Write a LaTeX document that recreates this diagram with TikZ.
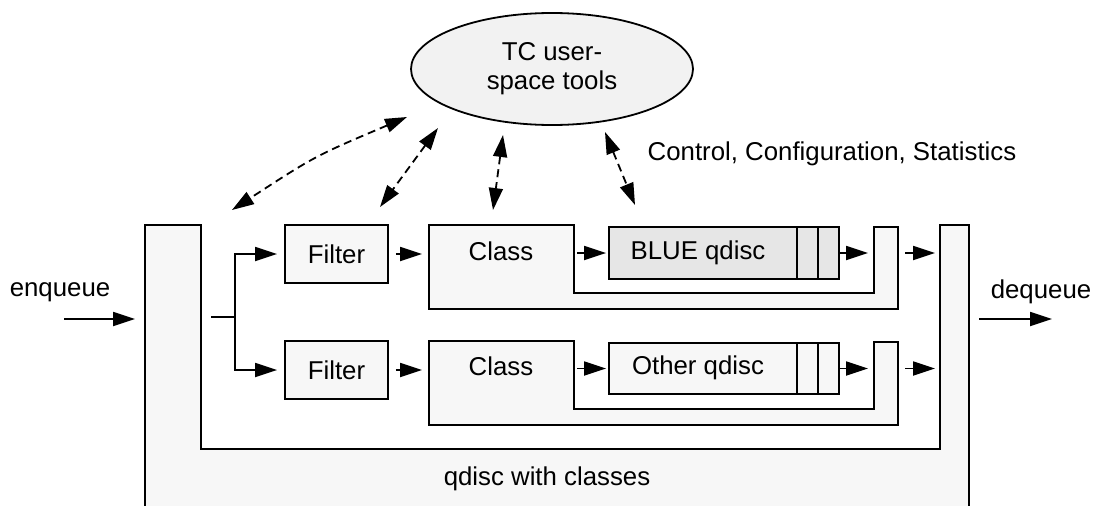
\documentclass[tikz,border=0pt]{standalone}
\usepackage{fontspec}
\setmainfont{Liberation Sans}
\usetikzlibrary{arrows.meta,shapes.geometric}

\definecolor{paper}{HTML}{F7F7F7}
\definecolor{toolfill}{HTML}{F2F2F2}
\definecolor{bluefill}{HTML}{E6E6E6}

\begin{document}
\begin{tikzpicture}[
  x=1pt, y=-1pt,
  line width=1.8pt,
  every node/.style={font=\fontsize{25.8}{29}\selectfont, inner sep=0pt},
  >={Triangle[length=22pt 0 0, width=14pt 0 0]},
  arr/.style={->},
  darr/.style={<->, dash pattern=on 8pt off 5pt},
  box/.style={draw, fill=paper, rectangle},
  qbox/.style={draw, rectangle, minimum width=230pt},
]
\useasboundingbox (0,0) rectangle (1095,506);

% outer qdisc with classes (open at the bottom)
\fill[paper] (145,225) -- (201,225) -- (201,449) -- (940,449) -- (940,225)
  -- (969,225) -- (969,506) -- (145,506) -- cycle;
\draw (145,506) -- (145,225) -- (201,225) -- (201,449) -- (940,449)
  -- (940,225) -- (969,225) -- (969,506);
\node (qlabel) at (547,479) {qdisc with classes};

% class shapes
\draw[fill=paper] (429,225) -- (574,225) -- (574,293) -- (874,293) -- (874,227)
  -- (898,227) -- (898,309) -- (429,309) -- cycle;
\draw[fill=paper] (429,341) -- (574,341) -- (574,409) -- (874,409) -- (874,342)
  -- (898,342) -- (898,425) -- (429,425) -- cycle;
\node (class1) at (501,251) {Class};
\node (class2) at (501,366) {Class};

% filters
\node[box, minimum width=103pt, minimum height=58pt] (filter1) at (336.5,254) {Filter};
\node[box, minimum width=103pt, minimum height=58pt] (filter2) at (336.5,370) {Filter};

% child qdiscs with their queue slots
\node[qbox, fill=bluefill, minimum height=52pt] (blue) at (724,253) {};
\node[qbox, fill=paper, minimum height=51pt] (other) at (724,368.5) {};
\foreach \q in {blue,other} {
  \draw ([xshift=-43pt]\q.north east) -- ([xshift=-43pt]\q.south east);
  \draw ([xshift=-22pt]\q.north east) -- ([xshift=-22pt]\q.south east);
}
\node (bluelabel) at (698,253) {BLUE qdisc};
\node (otherlabel) at (698,368) {Other qdisc};

% user-space tools
\node[ellipse, draw, fill=toolfill, minimum width=282pt, minimum height=112pt,
      align=center] (tc) at (552,69) {TC user-\\space tools};
\node (ctl) at (832,154) {Control, Configuration, Statistics};

% anchor points on the composite shapes
\coordinate (stub)   at (211,317);
\coordinate (fork)   at (235,317);
\coordinate (c1w)    at (429,254);
\coordinate (c2w)    at (429,370);
\coordinate (c1n)    at (574,253);
\coordinate (c2n)    at (574,368.5);
\coordinate (arm1i)  at (874,253);
\coordinate (arm2i)  at (874,368.5);
\coordinate (arm1o)  at (898,253);
\coordinate (arm2o)  at (898,368.5);
\coordinate (out1)   at (940,253);
\coordinate (out2)   at (940,368.5);
\coordinate (outl)   at (145,319);
\coordinate (outr)   at (969,319);
\coordinate (enqsrc) at (64,319);
\coordinate (deqdst) at (1052,319);

% data path
\draw (stub) -- (fork);
\draw[arr, shorten >=7pt] (fork) |- (filter1.west);
\draw[arr, shorten >=7pt] (fork) |- (filter2.west);
\draw[arr, shorten <=7pt, shorten >=7pt] (filter1.east) -- (c1w);
\draw[arr, shorten <=7pt, shorten >=7pt] (filter2.east) -- (c2w);
\draw[arr, shorten <=3pt, shorten >=2pt] (c1n) -- (blue.west);
\draw[arr, shorten <=3pt, shorten >=2pt] (c2n) -- (other.west);
\draw[arr, shorten >=6pt] (blue.east) -- (arm1i);
\draw[arr, shorten >=6pt] (other.east) -- (arm2i);
\draw[arr, shorten <=7pt, shorten >=5pt] (arm1o) -- (out1);
\draw[arr, shorten <=7pt, shorten >=5pt] (arm2o) -- (out2);

% enqueue / dequeue
\node (enq) at (60,292) {enqueue};
\node (deq) at (1041,292) {dequeue};
\draw[arr, shorten >=10pt] (enqsrc) -- (outl);
\draw[arr, shorten <=10pt] (outr) -- (deqdst);

% control channels
\coordinate (u1) at (407,117);  \coordinate (l1) at (232,210);
\coordinate (u2) at (438,128);  \coordinate (l2) at (380,207);
\coordinate (u3) at (503,135);  \coordinate (l3) at (493,210);
\coordinate (u4) at (605,132);  \coordinate (l4) at (635,205);
\draw[darr] (u1) .. controls (315,156) .. (l1);
\draw[darr] (u2) -- (l2);
\draw[darr] (u3) -- (l3);
\draw[darr] (u4) -- (l4);
\end{tikzpicture}
\end{document}
